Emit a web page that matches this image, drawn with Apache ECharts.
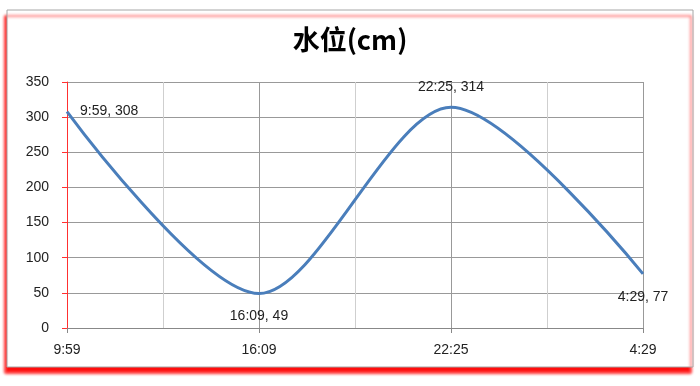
<!DOCTYPE html>
<html><head><meta charset="utf-8">
<script src="https://cdn.jsdelivr.net/npm/echarts@6/dist/echarts.min.js"></script>
<style>html,body{margin:0;padding:0;background:#fff}#c{width:700px;height:386px}</style>
</head><body><div id="c"></div>
<script>
const titleText = '水位(cm)';
const tickLabels = ['9:59', '', '16:09', '', '22:25', '', '4:29'];
const pointX = [0, 2, 4, 6];
const pointTimes = ['9:59', '16:09', '22:25', '4:29'];
const waterLevels = [308, 49, 314, 77];
const labelPositions = ['right', 'bottom', 'top', 'bottom'];

const chart = echarts.init(document.getElementById('c'), null, {renderer: 'canvas'});
const font = '"Liberation Sans", "DejaVu Sans", sans-serif';
const data = pointX.map((x, i) => ({
  value: [x, waterLevels[i]],
  label: {
    position: labelPositions[i],
    distance: [12, 15, 12, 15][i],
    offset: [[0, 0], [0, 0], [0, 0], [-6, 0]][i]
  }
}));
chart.setOption({
  animation: false,
  graphic: [{
    type: 'rect', z: -10,
    shape: {x: 7, y: 10, width: 686, height: 357},
    style: {fill: '#fff', stroke: '#a6a6a6', lineWidth: 1,
      shadowColor: 'rgba(255,0,0,0.95)', shadowBlur: 3, shadowOffsetX: -2, shadowOffsetY: 6}
  }],
  title: {
    text: titleText, left: 'center', top: 21,
    textStyle: {fontFamily: '"Noto Sans CJK SC", sans-serif', fontSize: 27, fontWeight: 'bold', color: '#000'}
  },
  grid: {left: 67, right: 57, top: 82, bottom: 58, containLabel: false},
  xAxis: {
    type: 'category', boundaryGap: false, data: tickLabels,
    axisLine: {show: true, lineStyle: {color: '#888', width: 1}},
    axisTick: {show: true, length: 5, lineStyle: {color: '#888'},
      interval: function(i){ return i % 2 === 0; }},
    axisLabel: {interval: 0, margin: 15, color: '#222', fontSize: 14, fontFamily: font},
    splitLine: {show: true, interval: 0, lineStyle: {color: ['#999', '#cfcfcf'], width: 1}}
  },
  yAxis: {
    type: 'value', min: 0, max: 350, interval: 50,
    axisLine: {show: true, lineStyle: {color: '#ff3030', width: 1}},
    axisTick: {show: true, length: 5, lineStyle: {color: '#ff3030'}},
    axisLabel: {margin: 18, color: '#222', fontSize: 14, fontFamily: font},
    splitLine: {show: true, lineStyle: {color: '#999', width: 1}}
  },
  series: [{
    type: 'line', data: data, smooth: 0.3,
    symbol: 'circle', symbolSize: 2, showSymbol: true,
    itemStyle: {color: 'rgba(0,0,0,0)', borderWidth: 0},
    lineStyle: {color: '#4a7ebb', width: 3},
    label: {
      show: true, color: '#222', fontSize: 14, fontFamily: font,
      formatter: p => pointTimes[p.dataIndex] + ', ' + waterLevels[p.dataIndex]
    },
    labelLayout: {hideOverlap: false}
  }]
});
</script></body></html>
